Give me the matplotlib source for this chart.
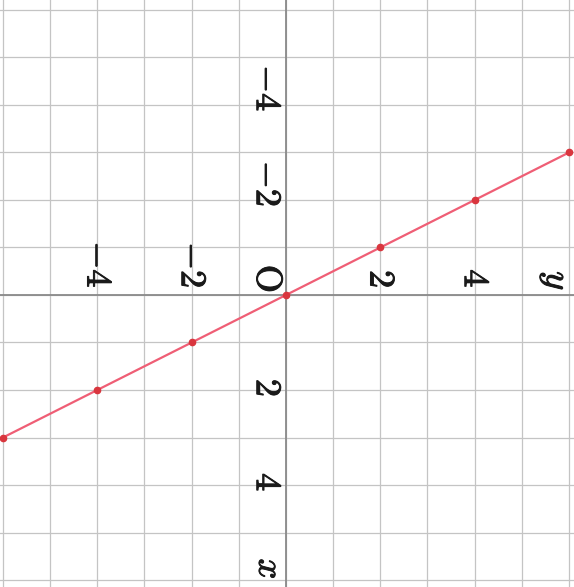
import numpy as np
import matplotlib
matplotlib.use('Agg')
import matplotlib.pyplot as plt
import matplotlib.patheffects as pe

plt.rcParams['mathtext.fontset'] = 'cm'

# data: y = -2x, sampled at integer x
x_vals = [-3, -2, -1, 0, 1, 2, 3]
y_vals = [6, 4, 2, 0, -2, -4, -6]
tick_vals = [-4, -2, 2, 4]
grid_vals = list(range(-6, 7))

# the page is turned a quarter clockwise: y runs to the right, x runs down
fig = plt.figure(figsize=(5.74, 5.87), dpi=100)
ax = fig.add_axes([0, 0, 1, 1])
ax.set_xlim(-6.063, 6.106)
ax.set_ylim(6.147, -6.21)
ax.axis('off')

for g in grid_vals:
    ax.axvline(g, color='#c4c4c4', lw=0.9, zorder=1)
    ax.axhline(g, color='#c4c4c4', lw=0.9, zorder=1)
ax.axvline(0, color='#8a8a8a', lw=1.3, zorder=2)
ax.axhline(0, color='#8a8a8a', lw=1.3, zorder=2)

ax.plot(y_vals, x_vals, color='#ef5e75', lw=1.6, zorder=3)
ax.plot(y_vals, x_vals, 'o', color='#d9363e', ms=4.5, zorder=4)

fs = 26
txt = dict(rotation=-90, fontsize=fs, color='#1a1a1a', zorder=5,
           path_effects=[pe.withStroke(linewidth=0.7, foreground='#1a1a1a')])
# tick labels, rotated with the page; digit sits on the tick, minus above it
for t in tick_vals:
    ax.text(-0.41, t + 0.15, f'${t}$', ha='center', va='bottom', **txt)
    ax.text(t, -0.14, f'${t}$', ha='center', va='bottom', **txt)
ax.text(-0.40, -0.34, '$\\mathrm{O}$', ha='center', va='center', **txt)
ax.text(-0.36, 5.77, '$x$', ha='center', va='center', **txt)
ax.text(5.70, -0.29, '$y$', ha='center', va='center', **txt)

plt.savefig('out.png', dpi=100)
